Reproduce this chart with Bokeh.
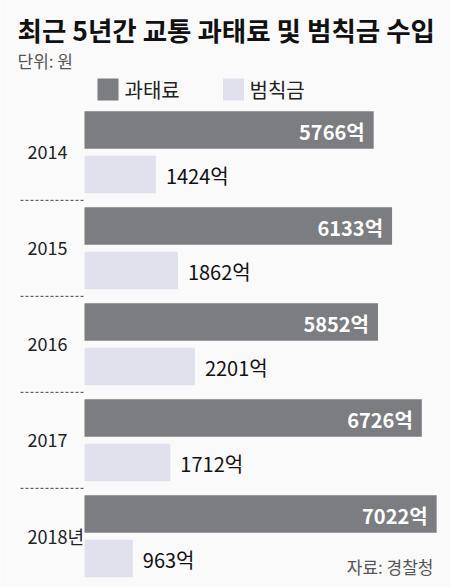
from bokeh.plotting import figure
from bokeh.models import Range1d, ColumnDataSource
from bokeh.core.properties import value
from bokeh.embed import file_html
from bokeh.resources import INLINE

# ---- data ----
years = ["2014", "2015", "2016", "2017", "2018년"]
fines = [5766, 6133, 5852, 6726, 7022]        # 과태료 (억)
penalties = [1424, 1862, 2201, 1712, 963]     # 범칙금 (억)
title_text = "최근 5년간 교통 과태료 및 범칙금 수입"
unit_text = "단위: 원"
source_text = "자료: 경찰청"
series_names = ["과태료", "범칙금"]

# ---- layout constants ----
W, H = 450, 587
FONT = "Noto Sans CJK KR"
DARK = "#7c7d81"
LIGHT = "#e1e1ed"
BG = "#fafafb"
X0 = 84           # pixel where value 0 sits
SCALE = 0.05015   # pixels per unit
ROW0 = 129.6      # centre of first dark bar (px from top)
PERIOD = 96
BAR_H = 37.5
GAP = 44.5

p = figure(width=W, height=H, output_backend="svg", toolbar_location=None,
           x_range=Range1d(-X0 / SCALE, (W - X0) / SCALE),
           y_range=Range1d(H, 0), min_border=0,
           background_fill_color=BG, border_fill_color=BG)
p.extra_x_ranges["px"] = Range1d(0, W)
p.axis.visible = False
p.grid.visible = False
p.outline_line_color = None

idx = list(range(len(years)))
dark_y = [ROW0 + PERIOD * i for i in idx]
light_y = [y + GAP for y in dark_y]
src = ColumnDataSource(dict(
    year=years, fines=fines, pen=penalties,
    dy=dark_y, ly=light_y, yy=[(a + b) / 2 for a, b in zip(dark_y, light_y)],
    fl=[f"{v}억" for v in fines], pl=[f"{v}억" for v in penalties],
))

p.hbar(y="dy", right="fines", left=0, height=BAR_H, source=src,
       fill_color=DARK, line_color=None)
p.hbar(y="ly", right="pen", left=0, height=BAR_H, source=src,
       fill_color=LIGHT, line_color=None)

p.text(x="fines", y="dy", text="fl", source=src, x_offset=-9, y_offset=1,
       text_align="right", text_baseline="middle", text_color="white",
       text_font=value(FONT), text_font_style="bold", text_font_size="20px")
p.text(x="pen", y="ly", text="pl", source=src, x_offset=10, y_offset=1,
       text_align="left", text_baseline="middle", text_color="#111111",
       text_font=value(FONT), text_font_size="20px")

# year labels
p.text(x=27, y="yy", text="year", source=src, x_range_name="px",
       text_align="left", text_baseline="middle", text_color="#222222",
       text_font=value(FONT), text_font_size="18px")

# dotted separators
sep_y = [(light_y[i] + BAR_H / 2 + dark_y[i + 1] - BAR_H / 2) / 2 for i in idx[:-1]]
p.segment(x0=[20] * len(sep_y), x1=[84] * len(sep_y), y0=sep_y, y1=sep_y,
          x_range_name="px", line_color="#444444", line_width=1, line_dash="3 2")

# title, unit, source
p.text(x=[17], y=[29], text=[title_text], x_range_name="px",
       text_baseline="middle", text_color="#111111", text_font=value(FONT),
       text_font_style="bold", text_font_size="26.5px")
p.text(x=[17], y=[60], text=[unit_text], x_range_name="px",
       text_baseline="middle", text_color="#555555", text_font=value(FONT),
       text_font_size="17px")
p.text(x=[433], y=[566], text=[source_text], x_range_name="px",
       text_align="right", text_baseline="middle", text_color="#555555",
       text_font=value(FONT), text_font_size="17px")

# legend
p.rect(x=[107.5, 233], y=[89, 89], width=21, height=22, x_range_name="px",
       fill_color=[DARK, LIGHT], line_color=None)
p.text(x=[124, 249], y=[89, 89], text=series_names, x_range_name="px",
       text_baseline="middle", text_color="#222222", text_font=value(FONT),
       text_font_size="20px")

open("out.html", "w").write(file_html(p, INLINE))
